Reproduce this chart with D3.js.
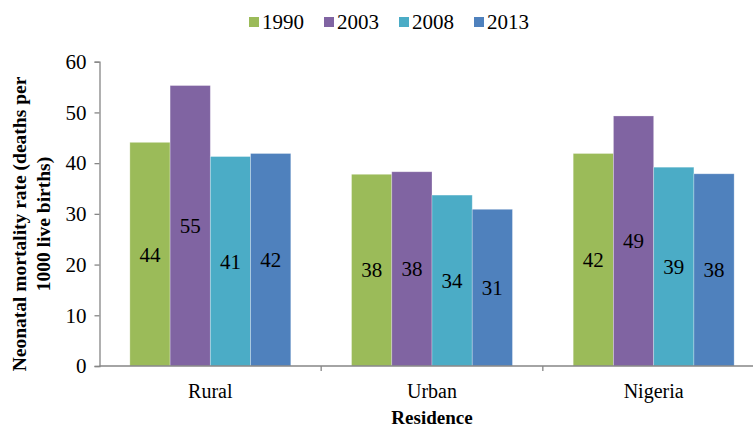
<!DOCTYPE html>
<html>
<head>
<meta charset="utf-8">
<script src="https://cdn.jsdelivr.net/npm/d3@7"></script>
<style>
  body { margin: 0; background: #fff; }
</style>
</head>
<body>
<div id="chart"></div>
<script>
// chart data
var categories = ["Rural", "Urban", "Nigeria"];
var years = ["1990", "2003", "2008", "2013"];
var rate1990 = [44.1, 37.8, 41.9];
var rate2003 = [55.3, 38.3, 49.3];
var rate2008 = [41.3, 33.7, 39.2];
var rate2013 = [41.9, 30.9, 37.9];
var yTicks = [0, 10, 20, 30, 40, 50, 60];

var colors = ["#9BBB59", "#8064A2", "#4BACC6", "#4F81BD"];
var seriesValues = [rate1990, rate2003, rate2008, rate2013];
var serif = "'Liberation Serif', 'Times New Roman', serif";

// svg area
var svgWidth = 753;
var svgHeight = 428;

var margin = { top: 61.7, left: 99.5 };
var plotWidth = 665;   // runs past the right edge, like the cropped original
var plotHeight = 366 - margin.top;

var svg = d3.select("#chart")
    .append("svg")
    .attr("width", svgWidth)
    .attr("height", svgHeight)
    .style("font-family", serif);

var chartGroup = svg.append("g")
    .attr("transform", `translate(${margin.left}, ${margin.top})`);

// scales
var x0 = d3.scaleBand()
    .domain(categories)
    .range([0, plotWidth])
    .paddingInner(0.274)
    .paddingOuter(0.137);

var x1 = d3.scaleBand()
    .domain(years)
    .range([0, x0.bandwidth()]);

var y = d3.scaleLinear()
    .domain([0, 60])
    .range([plotHeight, 0]);

// bars
var rows = [];
categories.forEach(function(cat, i) {
    years.forEach(function(yr, j) {
        rows.push({ cat: cat, year: yr, value: seriesValues[j][i], color: colors[j] });
    });
});

chartGroup.selectAll(".bar")
    .data(rows)
    .enter()
    .append("rect")
    .attr("class", "bar")
    .attr("x", d => x0(d.cat) + x1(d.year))
    .attr("y", d => y(d.value))
    .attr("width", x1.bandwidth())
    .attr("height", d => plotHeight - y(d.value))
    .attr("fill", d => d.color)
    .attr("stroke", "rgba(255,255,255,0.35)")
    .attr("stroke-width", 0.8);

// value labels in middle of bars
chartGroup.selectAll(".val")
    .data(rows)
    .enter()
    .append("text")
    .attr("class", "val")
    .attr("x", d => x0(d.cat) + x1(d.year) + x1.bandwidth() / 2)
    .attr("y", d => (y(d.value) + plotHeight) / 2)
    .attr("dy", "0.35em")
    .attr("text-anchor", "middle")
    .style("font-family", serif)
    .style("font-size", "21px")
    .text(d => d3.format(".0f")(d.value));

// y axis
var yAxis = d3.axisLeft(y)
    .tickValues(yTicks)
    .tickSize(5)
    .tickPadding(8);

var yG = chartGroup.append("g").call(yAxis);
yG.attr("font-family", null);
yG.select(".domain").attr("stroke", "#868686").attr("stroke-width", 1.3);
yG.selectAll(".tick line").attr("stroke", "#868686").attr("stroke-width", 1.3);
yG.selectAll(".tick text")
    .style("font-family", serif)
    .style("font-size", "21px")
    .attr("fill", "#000");

// x axis line with ticks at category borders
var xG = chartGroup.append("g")
    .attr("transform", `translate(0, ${plotHeight})`);

xG.append("line")
    .attr("x1", 0)
    .attr("x2", plotWidth)
    .attr("stroke", "#868686")
    .attr("stroke-width", 1.3);

xG.selectAll(".xtick")
    .data(categories.slice(1))
    .enter()
    .append("line")
    .attr("x1", d => x0(d) - x0.step() * x0.paddingInner() / 2)
    .attr("x2", d => x0(d) - x0.step() * x0.paddingInner() / 2)
    .attr("y1", 0)
    .attr("y2", 5)
    .attr("stroke", "#868686")
    .attr("stroke-width", 1.3);

xG.selectAll(".xlab")
    .data(categories)
    .enter()
    .append("text")
    .attr("x", d => x0(d) + x0.bandwidth() / 2)
    .attr("y", 32)
    .attr("text-anchor", "middle")
    .style("font-family", serif)
    .style("font-size", "20px")
    .text(d => d);

// axis titles
svg.append("text")
    .attr("x", 432)
    .attr("y", 424)
    .attr("text-anchor", "middle")
    .style("font-family", serif)
    .style("font-size", "19px")
    .style("font-weight", "bold")
    .text("Residence");

var yTitle = svg.append("text")
    .attr("transform", "translate(26, 224) rotate(-90)")
    .attr("text-anchor", "middle")
    .style("font-family", serif)
    .style("font-size", "19.5px")
    .style("font-weight", "bold");
yTitle.append("tspan").attr("x", 0).attr("y", 0).text("Neonatal mortality rate (deaths per");
yTitle.append("tspan").attr("x", 0).attr("y", 24).text("1000 live births)");

// legend
var legendX = [249, 324, 399, 474];
var legend = svg.selectAll(".legend")
    .data(years)
    .enter()
    .append("g")
    .attr("transform", (d, i) => `translate(${legendX[i]}, 17)`);

legend.append("rect")
    .attr("width", 10)
    .attr("height", 10)
    .attr("fill", (d, i) => colors[i]);

legend.append("text")
    .attr("x", 13)
    .attr("y", 5)
    .attr("dy", "0.35em")
    .style("font-family", serif)
    .style("font-size", "21px")
    .text(d => d);
</script>
</body>
</html>
